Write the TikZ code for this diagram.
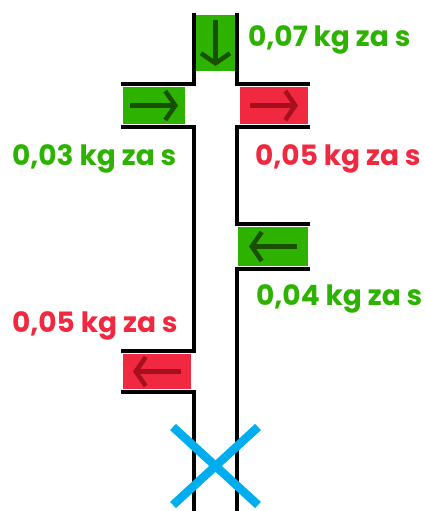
\documentclass[tikz,border=0pt]{standalone}
\usepackage{fontspec}
\setmainfont{Poppins}
\usetikzlibrary{arrows.meta}
\definecolor{flowgreen}{RGB}{45,178,0}
\definecolor{flowred}{RGB}{240,40,64}
\definecolor{arrowgreen}{RGB}{24,80,0}
\definecolor{arrowred}{RGB}{165,15,30}
\definecolor{stopblue}{RGB}{0,174,239}
\tikzset{
  wall/.style={line width=4.5pt, line join=miter},
  inbox/.style={fill=flowgreen, draw=none, inner sep=0pt},
  outbox/.style={fill=flowred, draw=none, inner sep=0pt},
  flowarrow/.style={line width=4.5pt, -{Straight Barb[length=10pt, width=29pt, line width=4.5pt]}},
  inarrow/.style={flowarrow, arrowgreen},
  outarrow/.style={flowarrow, arrowred},
  ratelabel/.style={anchor=base west, inner sep=0pt, font=\bfseries\fontsize{28}{28}\selectfont},
  stopmark/.style={stopblue, line width=8.5pt}
}
\begin{document}
\begin{tikzpicture}[x=1pt, y=-1pt]
\useasboundingbox (0,0) rectangle (424,511);

% pipe walls
\draw[wall] (194,13) -- (194,84) -- (121,84);
\draw[wall] (121,127) -- (194,127) -- (194,351) -- (121,351);
\draw[wall] (121,392) -- (194,392) -- (194,511);
\draw[wall] (237,13) -- (237,84) -- (310,84);
\draw[wall] (310,127) -- (237,127) -- (237,224) -- (310,224);
\draw[wall] (310,269) -- (237,269) -- (237,511);

% flow boxes
\node[inbox, minimum width=39pt, minimum height=56pt] (top) at (215.5,43) {};
\node[inbox, minimum width=62pt, minimum height=37pt] (inleft) at (154,105.5) {};
\node[outbox, minimum width=68pt, minimum height=37pt] (outright) at (274,105.5) {};
\node[inbox, minimum width=70pt, minimum height=39pt] (inright) at (273,246.5) {};
\node[outbox, minimum width=68pt, minimum height=35pt] (outleft) at (157,371.5) {};

% arrows inside the boxes
\draw[inarrow] ([yshift=23pt]top.center) -- ([yshift=-23pt]top.center);
\draw[inarrow] ([xshift=-24pt]inleft.center) -- ([xshift=24pt]inleft.center);
\draw[outarrow] ([xshift=-24pt]outright.center) -- ([xshift=24pt]outright.center);
\draw[inarrow] ([xshift=24pt]inright.center) -- ([xshift=-24pt]inright.center);
\draw[outarrow] ([xshift=24pt]outleft.center) -- ([xshift=-24pt]outleft.center);

% rate labels
\node[ratelabel, text=flowgreen] (l1) at (248,47) {0,07 kg za s};
\node[ratelabel, text=flowgreen] (l2) at (12,165) {0,03 kg za s};
\node[ratelabel, text=flowred] (l3) at (255,165) {0,05 kg za s};
\node[ratelabel, text=flowgreen] (l4) at (256,305) {0,04 kg za s};
\node[ratelabel, text=flowred] (l5) at (12,332) {0,05 kg za s};

% closed end of the pipe
\coordinate (xa) at (173,427);
\coordinate (xb) at (258,505);
\coordinate (xc) at (258,427);
\coordinate (xd) at (173,505);
\draw[stopmark] (xa) -- (xb);
\draw[stopmark] (xc) -- (xd);
\end{tikzpicture}
\end{document}
